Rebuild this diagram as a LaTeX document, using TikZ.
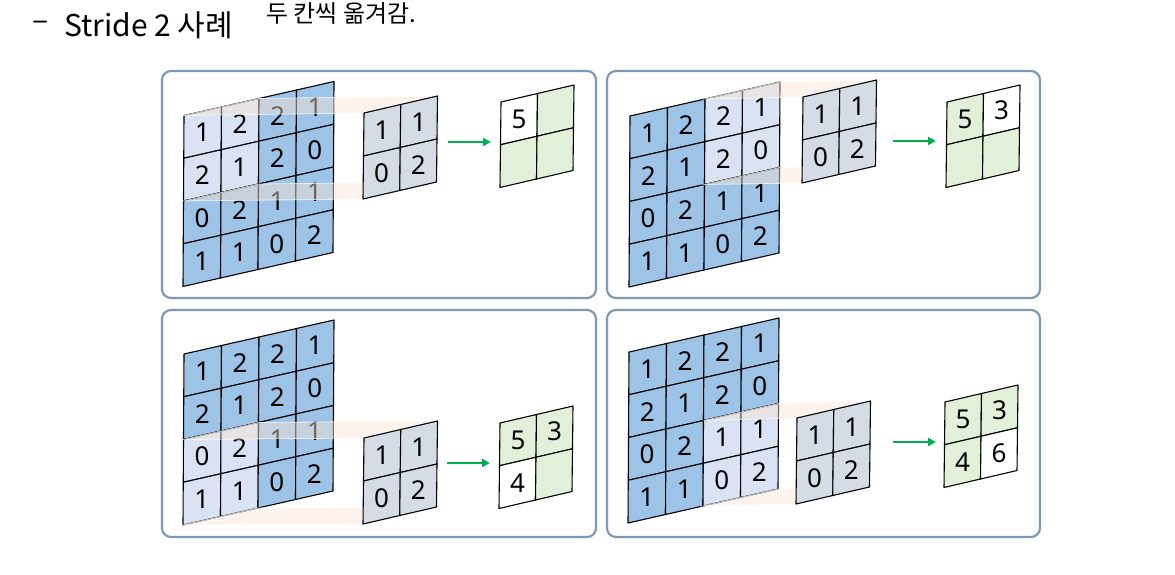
\documentclass[tikz,border=0pt]{standalone}
\usepackage{fontspec}
\setmainfont{Noto Sans}
\newfontfamily\krfont{Noto Sans CJK KR}
\usetikzlibrary{calc,arrows.meta}
\definecolor{gblue}{HTML}{9DC3E6}
\definecolor{glight}{HTML}{DAE3F3}
\definecolor{gkern}{HTML}{D6DCE5}
\definecolor{ggreen}{HTML}{E2F0D9}
\definecolor{pborder}{HTML}{7E99B2}
\definecolor{arrowgreen}{HTML}{00B050}
\definecolor{peach}{HTML}{FBE5D6}
\tikzset{
 panel/.style={draw=pborder, line width=2.2pt, rounded corners=9pt, fill=white},
 cellbox/.style={draw=black, line width=1.1pt, line join=round},
 num/.style={font=\fontsize{26}{26}\selectfont, inner sep=0pt},
 band/.style={fill=peach, fill opacity=0.45, draw=white, draw opacity=0.7, line width=0.8pt},
 conv/.style={draw=arrowgreen, line width=2pt, -{Triangle[length=8pt,width=8pt]}},
}
% grid points: name, ox, oy, ux, uy, vx, vy, n
\newcommand\mkgrid[8]{%
 \foreach \i in {0,...,#8}{\foreach \j in {0,...,#8}{%
   \coordinate (#1-\i-\j) at ($(#2,#3)+\i*(#4,#5)+\j*(#6,#7)$);
 }}%
}
% cell: grid name, col, row, fill, text
\newcommand\gcell[5]{%
 \pgfmathtruncatemacro\ii{#2+1}\pgfmathtruncatemacro\jj{#3+1}%
 \draw[cellbox,fill=#4] (#1-#2-#3) -- (#1-\ii-#3) -- (#1-\ii-\jj) -- (#1-#2-\jj) -- cycle;
 \node[num] (#1-c#2#3) at ($(#1-#2-#3)!0.5!(#1-\ii-\jj)$) {#5};
}
% big 4x4 input: name, window col, window row
\newcommand\biggrid[3]{%
 \foreach \i/\j/\v in {0/0/1,1/0/2,2/0/2,3/0/1,0/1/2,1/1/1,2/1/2,3/1/0,0/2/0,1/2/2,2/2/1,3/2/1,0/3/1,1/3/1,2/3/0,3/3/2}{%
   \pgfmathtruncatemacro\inw{(\i>=#2)&&(\i<#2+2)&&(\j>=#3)&&(\j<#3+2)}%
   \ifnum\inw=1 \def\cf{glight}\else\def\cf{gblue}\fi
   \gcell{#1}{\i}{\j}{\cf}{\v}
 }%
}
\newcommand\kgrid[1]{%
 \foreach \i/\j/\v in {0/0/1,1/0/1,0/1/0,1/1/2}{\gcell{#1}{\i}{\j}{gkern}{\v}}%
}
\begin{document}
\begin{tikzpicture}[x=1pt,y=-1pt]
\useasboundingbox (0,0) rectangle (1175,575);
% title
\node[font=\krfont\fontsize{30}{30}\selectfont, anchor=base west, inner sep=0pt] (tdash) at (32,31) {–};
\node[font=\krfont\fontsize{30}{30}\selectfont, anchor=base west, inner sep=0pt] (title) at (64,37) {Stride 2 사례};
\node[font=\krfont\fontsize{24}{24}\selectfont, anchor=base west, inner sep=0pt] (note) at (266,23) {두 칸씩 옮겨감.};
% panels
\draw[panel] (162,71) rectangle (596,298);
\draw[panel] (607,71) rectangle (1040,298);
\draw[panel] (162,310) rectangle (596,537);
\draw[panel] (607,310) rectangle (1040,537);
% grid geometry
\mkgrid{b1}{184}{115.5}{37.5}{-8.5}{-0.25}{42.75}{4}
\mkgrid{k1}{364}{113}{36.75}{-8.5}{-0.5}{43}{2}
\mkgrid{o1}{501}{102}{36.5}{-8.5}{-0.5}{42.75}{2}
\mkgrid{b2}{630}{116}{37.5}{-8.5}{-0.25}{42.75}{4}
\mkgrid{k2}{803}{97}{36.75}{-8.5}{-0.5}{43}{2}
\mkgrid{o2}{947}{102}{36.5}{-8.5}{-0.5}{42.75}{2}
\mkgrid{b3}{184}{354}{37.5}{-8.5}{-0.25}{42.75}{4}
\mkgrid{k3}{364}{438}{36.75}{-8.5}{-0.5}{43}{2}
\mkgrid{o3}{500}{423}{36.5}{-8.5}{-0.5}{42.75}{2}
\mkgrid{b4}{629}{352}{37.5}{-8.5}{-0.25}{42.75}{4}
\mkgrid{k4}{797}{418}{36.75}{-8.5}{-0.5}{43}{2}
\mkgrid{o4}{945}{402}{36.5}{-8.5}{-0.5}{42.75}{2}
% ---------- panel 1
\biggrid{b1}{0}{0}
\fill[band] (b1-0-0) -- (b1-2-0) -- (k1-2-0) -- (k1-0-0) -- cycle;
\fill[band] (b1-0-2) -- (b1-2-2) -- (k1-2-2) -- (k1-0-2) -- cycle;
\kgrid{k1}
\gcell{o1}{0}{0}{white}{5}
\gcell{o1}{1}{0}{ggreen}{}
\gcell{o1}{0}{1}{ggreen}{}
\gcell{o1}{1}{1}{ggreen}{}
\coordinate (a1s) at (448,142); \coordinate (a1e) at (491,142);
\draw[conv] (a1s) -- (a1e);
% ---------- panel 2
\biggrid{b2}{2}{0}
\fill[band] (b2-2-0) -- (b2-4-0) -- (k2-2-0) -- (k2-0-0) -- cycle;
\fill[band] (b2-2-2) -- (b2-4-2) -- (k2-2-2) -- (k2-0-2) -- cycle;
\kgrid{k2}
\gcell{o2}{0}{0}{ggreen}{5}
\gcell{o2}{1}{0}{white}{3}
\gcell{o2}{0}{1}{ggreen}{}
\gcell{o2}{1}{1}{ggreen}{}
\coordinate (a2s) at (893,141); \coordinate (a2e) at (936,141);
\draw[conv] (a2s) -- (a2e);
% ---------- panel 3
\biggrid{b3}{0}{2}
\fill[band] (b3-0-2) -- (b3-2-2) -- (k3-2-0) -- (k3-0-0) -- cycle;
\fill[band] (b3-0-4) -- (b3-2-4) -- (k3-2-2) -- (k3-0-2) -- cycle;
\kgrid{k3}
\gcell{o3}{0}{0}{ggreen}{5}
\gcell{o3}{1}{0}{ggreen}{3}
\gcell{o3}{0}{1}{white}{4}
\gcell{o3}{1}{1}{ggreen}{}
\coordinate (a3s) at (447,463); \coordinate (a3e) at (490,463);
\draw[conv] (a3s) -- (a3e);
% ---------- panel 4
\biggrid{b4}{2}{2}
\fill[band] (b4-2-2) -- (b4-4-2) -- (k4-2-0) -- (k4-0-0) -- cycle;
\fill[band] (b4-2-4) -- (b4-4-4) -- (k4-2-2) -- (k4-0-2) -- cycle;
\kgrid{k4}
\gcell{o4}{0}{0}{ggreen}{5}
\gcell{o4}{1}{0}{ggreen}{3}
\gcell{o4}{0}{1}{ggreen}{4}
\gcell{o4}{1}{1}{white}{6}
\coordinate (a4s) at (893,442); \coordinate (a4e) at (936,442);
\draw[conv] (a4s) -- (a4e);
\end{tikzpicture}
\end{document}
